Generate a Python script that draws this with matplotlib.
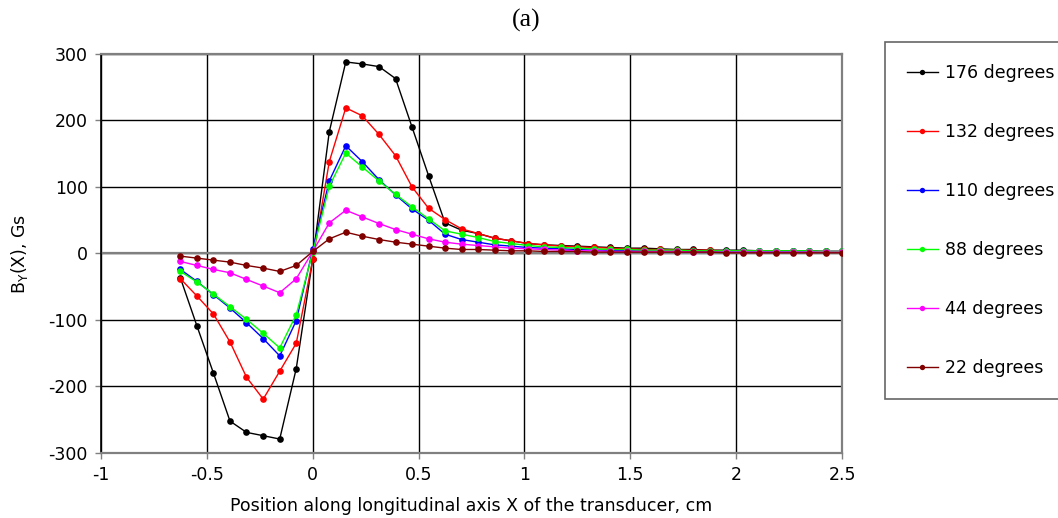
import matplotlib
matplotlib.use("Agg")
import matplotlib.pyplot as plt

plt.rcParams['font.family'] = ['DejaVu Sans']
plt.rcParams['mathtext.default'] = 'regular'

x_cm = [-0.625, -0.547, -0.469, -0.391, -0.313, -0.234, -0.156, -0.078, 0.0,
        0.078, 0.156, 0.234, 0.313, 0.391, 0.469, 0.547, 0.625, 0.703, 0.781,
        0.859, 0.938, 1.016, 1.094, 1.172, 1.25, 1.328, 1.406, 1.484, 1.563,
        1.641, 1.719, 1.797, 1.875, 1.953, 2.031, 2.109, 2.188, 2.266, 2.344,
        2.422, 2.5]

b_176 = [-37, -109, -180, -252, -269, -274, -279, -173, -8,
         183, 288, 285, 281, 263, 190, 117, 46, 35, 30,
         23, 19, 15, 13, 12, 11, 10, 9, 8, 8,
         7, 6, 6, 5, 5, 5, 4, 4, 4, 4, 3, 3]
b_132 = [-38, -64, -91, -133, -186, -219, -177, -135, -9,
         138, 219, 207, 179, 147, 100, 68, 51, 37, 30,
         23, 19, 15, 13, 11, 10, 9, 8, 7, 6,
         6, 5, 5, 5, 4, 4, 4, 4, 3, 3, 3, 3]
b_110 = [-24, -42, -62, -82, -104, -128, -154, -101, 6,
         109, 162, 138, 111, 88, 67, 50, 29, 21, 17,
         13, 11, 9, 8, 7, 6, 5, 5, 4, 4,
         4, 3, 3, 3, 3, 3, 3, 3, 3, 3, 3, 3]
b_88 = [-27, -43, -61, -80, -99, -120, -142, -92, 2,
        101, 151, 130, 109, 89, 70, 52, 34, 29, 24,
        18, 15, 12, 10, 9, 8, 7, 6, 6, 5,
        5, 5, 4, 4, 4, 4, 4, 4, 4, 4, 3, 3]
b_44 = [-12, -18, -24, -29, -39, -49, -59, -38, 3,
        46, 65, 55, 45, 36, 29, 22, 17, 14, 12,
        10, 8, 7, 6, 5, 4, 4, 3, 3, 3,
        3, 3, 2, 2, 2, 2, 2, 2, 2, 2, 2, 2]
b_22 = [-4, -7, -10, -13, -18, -22, -27, -18, 3,
        22, 32, 26, 21, 17, 14, 11, 8, 6, 6,
        5, 4, 4, 3, 3, 3, 2, 2, 2, 2,
        2, 2, 2, 2, 1, 1, 1, 1, 1, 1, 1, 1]

series = [
    ("176 degrees", b_176, "#000000"),
    ("132 degrees", b_132, "#FF0000"),
    ("110 degrees", b_110, "#0000FF"),
    ("88 degrees", b_88, "#00FF00"),
    ("44 degrees", b_44, "#FF00FF"),
    ("22 degrees", b_22, "#800000"),
]

x_ticks = [-1, -0.5, 0, 0.5, 1, 1.5, 2, 2.5]
x_tick_labels = ["-1", "-0.5", "0", "0.5", "1", "1.5", "2", "2.5"]
y_ticks = [-300, -200, -100, 0, 100, 200, 300]
y_tick_labels = ["-300", "-200", "-100", "0", "100", "200", "300"]

FS = 12.5

fig = plt.figure(figsize=(10.58, 5.18), dpi=100)
ax = fig.add_axes([0.0955, 0.1255, 0.7004, 0.7703])

handles = []
for label, vals, col in series:
    h, = ax.plot(x_cm, vals, color=col, lw=1.0, marker='o', markersize=4.8,
                 markeredgewidth=0, label=label, zorder=3)
    handles.append(h)

ax.set_xlim(-1, 2.5)
ax.set_ylim(-300, 300)
ax.set_xticks(x_ticks)
ax.set_xticklabels(x_tick_labels)
ax.set_yticks(y_ticks)
ax.set_yticklabels(y_tick_labels)
ax.grid(True, color='black', lw=1.0)
ax.set_axisbelow(True)
ax.axhline(0, color='#808080', lw=1.6, zorder=2)

for side in ['top', 'right', 'bottom']:
    ax.spines[side].set_color('#808080')
    ax.spines[side].set_linewidth(1.6)
ax.spines['left'].set_color('black')
ax.spines['left'].set_linewidth(1.2)

ax.tick_params(axis='both', direction='out', length=4.5, width=1, color='#808080',
               labelsize=FS, labelcolor='#000000', pad=5)

ax.set_xlabel("Position along longitudinal axis X of the transducer, cm", fontsize=FS, labelpad=9)
ax.set_ylabel("B$_Y$(X), Gs", fontsize=FS, labelpad=13)

fig.text(0.497, 0.96, "(a)", fontsize=18.5, ha='center', va='center',
         family=['Liberation Serif', 'DejaVu Serif'])

leg = fig.legend(handles=handles, loc='upper left', bbox_to_anchor=(0.8365, 0.919),
                 frameon=True, fancybox=False, fontsize=FS, labelspacing=2.37,
                 handlelength=1.8, handletextpad=0.4, borderpad=1.25,
                 borderaxespad=0.0, markerscale=0.8)
leg.get_frame().set_edgecolor('#404040')
leg.get_frame().set_linewidth(1.2)

fig.savefig("out.png", dpi=100)
